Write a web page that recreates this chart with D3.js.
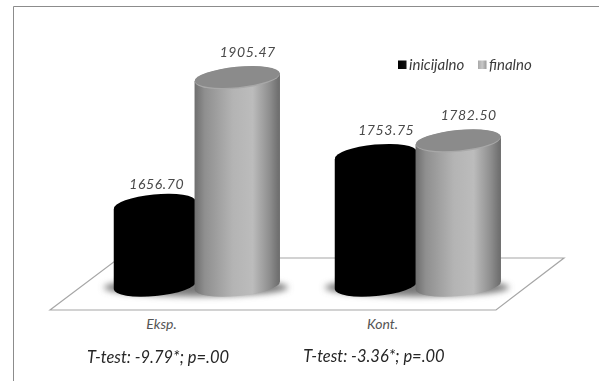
<!DOCTYPE html>
<html lang="en">

<head>
    <meta charset="UTF-8">
    <title>T-test cylinders</title>
    <style>
        html, body { margin: 0; padding: 0; background: #fff; }
        svg { display: block; }
        text { font-family: Lato, sans-serif; font-style: italic; }
    </style>
</head>

<body>
    <script src="https://d3js.org/d3.v7.min.js"></script>
    <div id="chart"></div>
    <script>
        const categories = ["Eksp.", "Kont."]
        const seriesNames = ["inicijalno", "finalno"]
        const inicijalno = [1656.70, 1753.75]
        const finalno = [1905.47, 1782.50]
        const tTests = ["T-test: -9.79*; p=.00", "T-test: -3.36*; p=.00"]

        const WIDTH = 599
        const HEIGHT = 381
        const TILT = -5.4
        const RY = 10.5

        const svg = d3.select("#chart").append("svg")
            .attr("width", WIDTH)
            .attr("height", HEIGHT)

        const defs = svg.append("defs")

        const addGradient = (id, stops) => {
            const grad = defs.append("linearGradient").attr("id", id)
            stops.forEach(s => grad.append("stop").attr("offset", s[0]).attr("stop-color", s[1]))
        }
        addGradient("bodyDark", [[0, "#000"], [0.5, "#000"], [0.65, "#060606"], [0.85, "#020202"], [1, "#000"]])
        addGradient("bodyLight", [[0, "#6e6e6e"], [0.12, "#8f8f8f"], [0.45, "#b4b4b4"], [0.68, "#bcbcbc"], [0.88, "#8e8e8e"], [1, "#6a6a6a"]])
        addGradient("swatchDark", [[0, "#000"], [1, "#111"]])
        addGradient("swatchLight", [[0, "#a8a8a8"], [0.5, "#c8c8c8"], [1, "#9a9a9a"]])

        defs.append("filter").attr("id", "blur").attr("x", "-20%").attr("y", "-60%")
            .attr("width", "140%").attr("height", "220%")
            .append("feGaussianBlur").attr("stdDeviation", 3)
        defs.append("filter").attr("id", "soft").attr("x", "-5%").attr("y", "-5%")
            .attr("width", "110%").attr("height", "110%")
            .append("feGaussianBlur").attr("stdDeviation", 0.35)

        // frame, open on the right and at the bottom
        svg.append("path")
            .attr("d", `M 13.5,${HEIGHT} V 6.5 H ${WIDTH}`)
            .attr("fill", "none")
            .attr("stroke", "#8c8c8c")

        // floor
        svg.append("path")
            .attr("d", "M 50,310 L 119,258 H 564 L 496,310 Z")
            .attr("fill", "#fff")
            .attr("stroke", "#a6a6a6")
            .attr("stroke-width", 1.2)

        const x = d3.scaleBand()
            .domain(categories)
            .range([85.5, 527.5])

        const xInner = d3.scaleBand()
            .domain(seriesNames)
            .range([x.bandwidth() / 2 - 82.5, x.bandwidth() / 2 + 82.5])

        const y = d3.scaleLinear()
            .domain([1500, 2000])
            .range([285.5, 28.4])

        const rx = d3.scaleOrdinal()
            .domain(seriesNames)
            .range([41, 42.7])

        // t-test lines are spaced a bit tighter than the categories
        const xTest = d3.scalePoint()
            .domain(categories)
            .range([158, 374])

        const addCylinder = (parent, cx, topY, baseY, radius, dark) => {
            const g = parent.append("g")
            const dy = radius * Math.sin(-TILT * Math.PI / 180)
            const ellipse = (sel, cy, ry, fill) => sel.append("ellipse")
                .attr("cx", cx).attr("cy", cy)
                .attr("rx", radius).attr("ry", ry)
                .attr("transform", `rotate(${TILT} ${cx} ${cy})`)
                .attr("fill", fill)

            g.append("path")
                .attr("d", `M ${cx - radius},${topY + dy} V ${baseY + dy}
                    A ${radius} ${RY} ${TILT} 0 0 ${cx + radius},${baseY - dy}
                    V ${topY - dy} Z`)
                .attr("fill", dark ? "url(#bodyDark)" : "url(#bodyLight)")

            if (dark) {
                ellipse(g, topY, RY, "#000")
            } else {
                ellipse(g, topY + 0.8, RY + 0.3, "#a8a8a8")
                ellipse(g, topY, RY - 0.3, "#8b8b8b")
            }
        }

        const plot = svg.append("g").attr("filter", "url(#soft)")

        // shadows go under every cylinder
        categories.forEach(c => {
            plot.append("ellipse")
                .attr("cx", x(c) + x.bandwidth() / 2)
                .attr("cy", y(1500) + 2)
                .attr("rx", 92)
                .attr("ry", 9)
                .attr("fill", "#7c7c7c")
                .attr("filter", "url(#blur)")
        })

        categories.forEach((c, i) => {
            const values = [inicijalno[i], finalno[i]]
            seriesNames.forEach((s, j) => {
                const cx = x(c) + xInner(s) + xInner.bandwidth() / 2
                addCylinder(plot, cx, y(values[j]), y(1500), rx(s), j === 0)
            })
        })

        // value labels
        const labels = svg.append("g")
            .attr("font-size", 14)
            .attr("fill", "#4a4a4a")
            .attr("letter-spacing", 0.6)
            .attr("text-anchor", "middle")

        categories.forEach((c, i) => {
            const values = [inicijalno[i], finalno[i]]
            seriesNames.forEach((s, j) => {
                const first = i === 0 && j === 0
                labels.append("text")
                    .attr("x", x(c) + xInner(s) + xInner.bandwidth() / 2 + (first ? 2 : 10.5))
                    .attr("y", y(values[j]) - (first ? 16 : 20))
                    .text(values[j].toFixed(2))
            })
        })

        // category axis, labels sit left of the bar pairs
        const xAxisCall = d3.axisBottom(x).tickSize(0).tickPadding(0)
        const axis = svg.append("g")
            .attr("transform", "translate(-34.5, 319)")
            .call(xAxisCall)
        axis.select(".domain").remove()
        axis.selectAll("text")
            .attr("font-size", 14)
            .attr("fill", "#555")
            .style("font-family", "Lato, sans-serif")
            .style("font-style", "italic")

        // t-test lines
        svg.append("g")
            .attr("font-size", 16.5)
            .attr("fill", "#262626")
            .attr("text-anchor", "middle")
            .selectAll("text")
            .data(tTests)
            .join("text")
            .attr("x", (d, i) => xTest(categories[i]))
            .attr("y", (d, i) => 363 - i)
            .text(d => d)

        // legend
        const legendX = d3.scaleOrdinal().domain(seriesNames).range([398, 478])
        const legend = svg.append("g")
        seriesNames.forEach((s, j) => {
            legend.append("rect")
                .attr("x", legendX(s))
                .attr("y", 60.5)
                .attr("width", 8.5)
                .attr("height", 8.5)
                .attr("fill", j === 0 ? "url(#swatchDark)" : "url(#swatchLight)")
            legend.append("text")
                .attr("x", legendX(s) + 11)
                .attr("y", 70)
                .attr("font-size", 15)
                .attr("fill", "#3c3c3c")
                .text(s)
        })
    </script>
</body>

</html>
